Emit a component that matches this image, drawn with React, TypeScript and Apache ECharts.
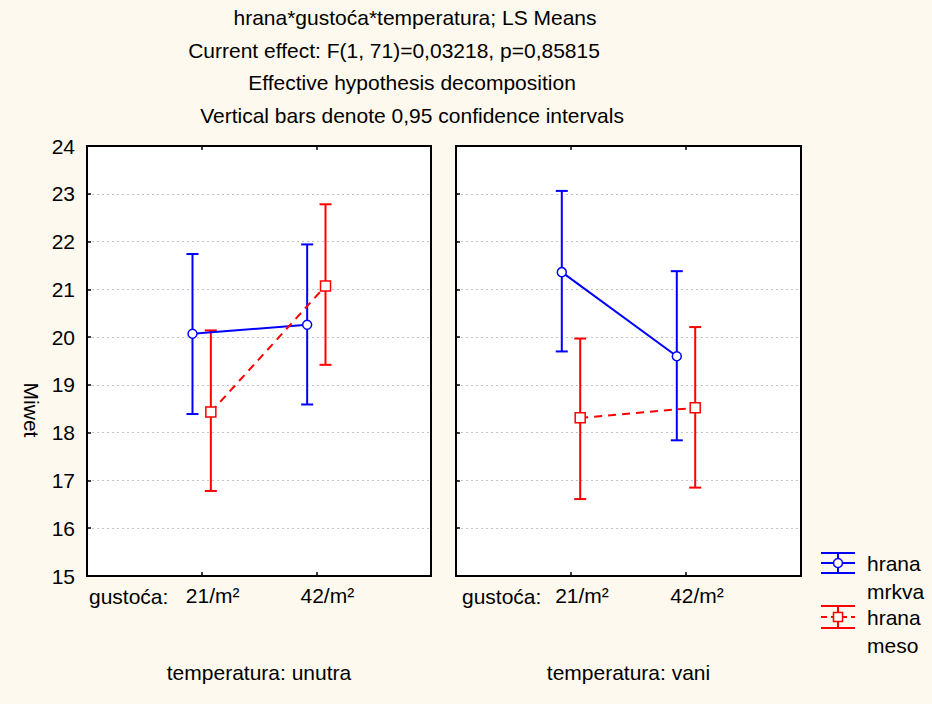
import React, { useEffect, useRef } from "react";
import * as echarts from "echarts";

// ---- data (order: [21/m², 42/m²]) ----
const densityLabels = ["21/m²", "42/m²"];
const temperatureLabels = ["temperatura: unutra", "temperatura: vani"];
const titleLines = [
  "hrana*gustoća*temperatura; LS Means",
  "Current effect: F(1, 71)=0,03218, p=0,85815",
  "Effective hypothesis decomposition",
  "Vertical bars denote 0,95 confidence intervals",
];
const yTicks = [15, 16, 17, 18, 19, 20, 21, 22, 23, 24];

// hrana mrkva
const mrkvaUnutraMean = [20.07, 20.26];
const mrkvaUnutraLow = [18.39, 18.59];
const mrkvaUnutraHigh = [21.74, 21.94];
const mrkvaVaniMean = [21.36, 19.6];
const mrkvaVaniLow = [19.7, 17.84];
const mrkvaVaniHigh = [23.06, 21.38];
// hrana meso
const mesoUnutraMean = [18.43, 21.07];
const mesoUnutraLow = [16.78, 19.42];
const mesoUnutraHigh = [20.14, 22.78];
const mesoVaniMean = [18.31, 18.52];
const mesoVaniLow = [16.61, 16.85];
const mesoVaniHigh = [19.97, 20.21];

const BLUE = "#0000ff";
const RED = "#ff0000";
const BG = "#fdf9ee";
const FONT = "'Liberation Sans', Arial, sans-serif";
const FS = 21;
const OFFSET = 0.08;

function errorSeries(idx: number, color: string, low: number[], high: number[], shift: number) {
  const data = low.map((l, i) => [i + 1 + shift, l, high[i]]);
  return {
    type: "custom",
    xAxisIndex: idx * 2,
    yAxisIndex: idx,
    data,
    z: 3,
    renderItem: (_params: any, api: any) => {
      const x = api.value(0);
      const lo = api.coord([x, api.value(1)]);
      const hi = api.coord([x, api.value(2)]);
      const w = 6;
      const style = { stroke: color, lineWidth: 2 };
      return {
        type: "group",
        children: [
          { type: "line", shape: { x1: lo[0], y1: lo[1], x2: hi[0], y2: hi[1] }, style },
          { type: "line", shape: { x1: hi[0] - w, y1: hi[1], x2: hi[0] + w, y2: hi[1] }, style },
          { type: "line", shape: { x1: lo[0] - w, y1: lo[1], x2: lo[0] + w, y2: lo[1] }, style },
        ],
      };
    },
  };
}

function meanSeries(idx: number, color: string, mean: number[], shift: number, isMeso: boolean) {
  return {
    type: "line",
    xAxisIndex: idx * 2,
    yAxisIndex: idx,
    data: mean.map((m, i) => [i + 1 + shift, m]),
    symbol: isMeso ? "rect" : "circle",
    symbolSize: isMeso ? 10 : 9,
    showSymbol: true,
    z: 5,
    lineStyle: { color, width: 2, type: isMeso ? [8, 6] : "solid" },
    itemStyle: { color: "#fff", borderColor: color, borderWidth: 1.5 },
  };
}

export default function App() {
  const ref = useRef<HTMLDivElement>(null);
  useEffect(() => {
    if (!ref.current) return;
    const chart = echarts.init(ref.current, null, { renderer: "svg" });
    const grids = [
      { left: 87, right: 932 - 431, top: 146, bottom: 704 - 576 },
      { left: 456, right: 932 - 801, top: 146, bottom: 704 - 576 },
    ];
    const xAxes: any[] = [];
    const yAxes: any[] = [];
    grids.forEach((_g, i) => {
      xAxes.push({
        type: "value",
        gridIndex: i,
        min: 0,
        max: 3,
        interval: 1,
        position: "bottom",
        name: temperatureLabels[i],
        nameLocation: "middle",
        nameGap: 86,
        nameTextStyle: { fontFamily: FONT, fontSize: FS, color: "#000" },
        axisLine: { show: true, lineStyle: { color: "#000", width: 2 } },
        axisTick: { show: true, inside: true, length: 4, customValues: [1, 2], lineStyle: { color: "#000", width: 1.5 } },
        axisLabel: {
          show: true,
          customValues: [1, 2],
          formatter: (v: number) => densityLabels[Math.round(v) - 1] ?? "",
          fontFamily: FONT,
          fontSize: FS,
          color: "#000",
          margin: 9,
          padding: [0, 0, 0, 22],
        },
        splitLine: {
          show: true,
          showMinLine: false,
          showMaxLine: false,
          lineStyle: { color: "#c4c4c4", width: 1, type: [2, 3] },
        },
      });
      xAxes.push({
        type: "value",
        gridIndex: i,
        min: 0,
        max: 3,
        interval: 1,
        position: "top",
        axisLine: { show: false },
        axisTick: { show: true, inside: true, length: 4, customValues: [1, 2], lineStyle: { color: "#000", width: 1.5 } },
        axisLabel: { show: false },
        splitLine: { show: false },
      });
      yAxes.push({
        type: "value",
        gridIndex: i,
        min: yTicks[0],
        max: yTicks[yTicks.length - 1],
        interval: 1,
        axisLine: { show: true, lineStyle: { color: "#000", width: 2 } },
        axisTick: { show: true, inside: true, length: 4, lineStyle: { color: "#000", width: 1.5 } },
        axisLabel: {
          show: i === 0,
          fontFamily: FONT,
          fontSize: FS,
          color: "#000",
          margin: 12,
        },
        splitLine: {
          show: true,
          showMinLine: false,
          showMaxLine: false,
          lineStyle: { color: "#c4c4c4", width: 1, type: [2, 3] },
        },
      });
    });

    const titleY = [17, 50, 82, 115];
    const titleX = [415, 394, 412, 412];
    const graphics: any[] = titleLines.map((t, i) => ({
      type: "text",
      x: titleX[i],
      y: titleY[i],
      style: { text: t, fontFamily: FONT, fontSize: FS, fill: "#000", align: "center", verticalAlign: "middle" },
    }));
    graphics.push({
      type: "text",
      x: 31,
      y: 410,
      rotation: -Math.PI / 2,
      style: { text: "Miwet", fontFamily: FONT, fontSize: FS, fill: "#000", align: "center", verticalAlign: "middle" },
    });
    [89, 462].forEach((x) =>
      graphics.push({
        type: "text",
        x,
        y: 596,
        style: { text: "gustoća:", fontFamily: FONT, fontSize: FS, fill: "#000", align: "left", verticalAlign: "middle" },
      })
    );
    // legend
    const legendItem = (color: string, yTop: number, yBot: number, isMeso: boolean) => {
      const ym = (yTop + yBot) / 2;
      const st = { stroke: color, lineWidth: 2 };
      const items: any[] = [
        { type: "line", shape: { x1: 821, y1: yTop, x2: 855, y2: yTop }, style: st },
        { type: "line", shape: { x1: 821, y1: yBot, x2: 855, y2: yBot }, style: st },
        { type: "line", shape: { x1: 838, y1: yTop, x2: 838, y2: yBot }, style: st },
        {
          type: "line",
          shape: { x1: 821, y1: ym, x2: 855, y2: ym },
          style: isMeso ? { stroke: color, lineWidth: 2, lineDash: [6, 4] } : st,
        },
      ];
      if (isMeso) {
        items.push({ type: "rect", shape: { x: 833.5, y: ym - 4.5, width: 9, height: 9 }, style: { fill: "#fff", stroke: color, lineWidth: 1.5 } });
      } else {
        items.push({ type: "circle", shape: { cx: 838, cy: ym, r: 4.5 }, style: { fill: "#fff", stroke: color, lineWidth: 1.5 } });
      }
      return items;
    };
    graphics.push(...legendItem(BLUE, 553, 573, false));
    graphics.push(...legendItem(RED, 606, 628, true));
    [
      ["hrana", 563],
      ["mrkva", 591],
      ["hrana", 617],
      ["meso", 645],
    ].forEach(([t, y]) =>
      graphics.push({
        type: "text",
        x: 867,
        y: y as number,
        style: { text: t as string, fontFamily: FONT, fontSize: FS, fill: "#000", align: "left", verticalAlign: "middle" },
      })
    );

    chart.setOption({
      animation: false,
      backgroundColor: BG,
      textStyle: { fontFamily: FONT },
      grid: grids.map((g) => ({ ...g, show: true, backgroundColor: "#fff", borderColor: "#000", borderWidth: 2 })),
      xAxis: xAxes,
      yAxis: yAxes,
      graphic: graphics,
      series: [
        errorSeries(0, BLUE, mrkvaUnutraLow, mrkvaUnutraHigh, -OFFSET),
        errorSeries(0, RED, mesoUnutraLow, mesoUnutraHigh, OFFSET),
        errorSeries(1, BLUE, mrkvaVaniLow, mrkvaVaniHigh, -OFFSET),
        errorSeries(1, RED, mesoVaniLow, mesoVaniHigh, OFFSET),
        meanSeries(0, BLUE, mrkvaUnutraMean, -OFFSET, false),
        meanSeries(0, RED, mesoUnutraMean, OFFSET, true),
        meanSeries(1, BLUE, mrkvaVaniMean, -OFFSET, false),
        meanSeries(1, RED, mesoVaniMean, OFFSET, true),
      ],
    });
    return () => chart.dispose();
  }, []);
  return <div ref={ref} style={{ position: "absolute", left: 0, top: 0, width: 932, height: 704 }} />;
}
